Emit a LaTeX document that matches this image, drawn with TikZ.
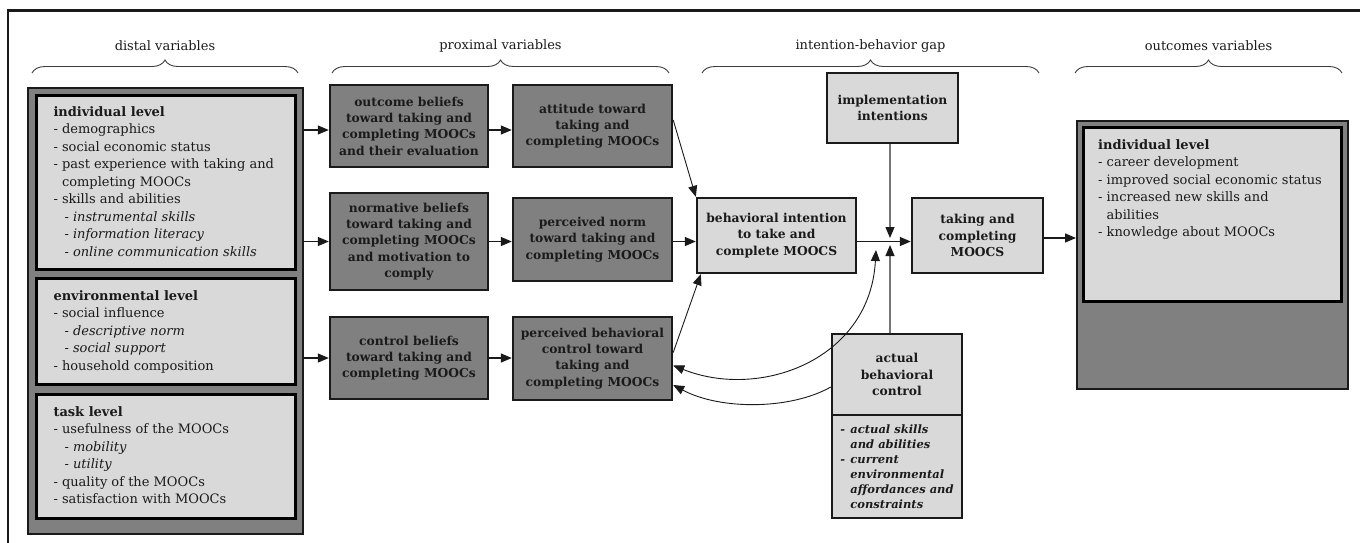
\documentclass[tikz,border=0pt]{standalone}
\usepackage{fontspec}
\setmainfont{DejaVu Serif}
\usetikzlibrary{arrows.meta,decorations.pathreplacing}
\definecolor{dk}{HTML}{808080}
\definecolor{lt}{HTML}{D9D9D9}
\definecolor{ink}{HTML}{1A1A1A}
\newcommand{\regfont}{\fontsize{13}{17.5}\selectfont}
\newcommand{\ind}{\hspace*{8.5pt}}
\newcommand{\subi}{\hspace*{11pt}}
\begin{document}
\begin{tikzpicture}[x=1pt,y=-1pt,
 darkbox/.style={draw=ink, line width=2.4pt, fill=dk, align=center, inner sep=2pt, text=ink, font=\bfseries\fontsize{12.3}{16.3}\selectfont},
 lightbox/.style={draw=ink, line width=2.4pt, fill=lt, align=center, inner sep=2pt, text=ink, font=\bfseries\fontsize{12.3}{16.3}\selectfont},
 levelbox/.style={draw=black, line width=3pt, fill=lt, anchor=north west, inner xsep=17pt, inner ysep=0pt, text=ink, font=\regfont},
 groupbox/.style={draw=ink, line width=2pt, fill=dk, anchor=north west, inner sep=0pt},
 arr/.style={-{Triangle[length=11pt,width=9pt]}, line width=1.3pt, draw=ink},
 thinarr/.style={-{Triangle[length=11pt,width=9pt]}, line width=0.9pt, draw=ink},
 greyarr/.style={-{Triangle[length=11pt,width=9pt,color=ink]}, line width=1.1pt, draw=ink!60},
 bothArr/.style={{Triangle[length=11pt,width=9pt]}-{Triangle[length=11pt,width=9pt]}, line width=0.9pt, draw=ink},
 bracestyle/.style={decorate, decoration={brace, amplitude=13pt}, line width=0.9pt, draw=ink!85},
 header/.style={font=\regfont, text=ink}]
\useasboundingbox (0,0) rectangle (1360,542);
% frame
\draw[line width=3pt, ink] (8,10) -- (1362,10);
\draw[line width=1.3pt, ink] (8,8.5) -- (8,545);
% headers and braces
\node[header] (h1) at (165,46) {distal variables};
\node[header] (h2) at (500.5,46) {proximal variables};
\node[header] (h3) at (870.5,46) {intention-behavior gap};
\node[header] (h4) at (1208.5,46) {outcomes variables};
\draw[bracestyle] (32,73) -- (298,73);
\draw[bracestyle] (332,73) -- (669,73);
\draw[bracestyle] (702,73) -- (1039,73);
\draw[bracestyle] (1075,73) -- (1342,73);
% distal
\node[groupbox, minimum width=275pt, minimum height=446pt] (dist) at (27,87) {};
\node[levelbox, minimum width=259pt, minimum height=174pt] (indl) at (35,94) {\makebox[225pt][l]{\begin{tabular}{@{}l@{}}
\textbf{individual level}\\
- demographics\\
- social economic status\\
- past experience with taking and\\
\ind completing MOOCs\\
- skills and abilities\\
\subi\textit{- instrumental skills}\\
\subi\textit{- information literacy}\\
\subi\textit{- online communication skills}
\end{tabular}}};
\node[levelbox, minimum width=259pt, minimum height=106pt] (envl) at (35,277) {\makebox[225pt][l]{\begin{tabular}{@{}l@{}}
\textbf{environmental level}\\
- social influence\\
\subi\textit{- descriptive norm}\\
\subi\textit{- social support}\\
- household composition
\end{tabular}}};
\node[levelbox, minimum width=259pt, minimum height=124pt] (taskl) at (35,393) {\makebox[225pt][l]{\begin{tabular}{@{}l@{}}
\textbf{task level}\\
- usefulness of the MOOCs\\
\subi\textit{- mobility}\\
\subi\textit{- utility}\\
- quality of the MOOCs\\
- satisfaction with MOOCs
\end{tabular}}};
% proximal
\node[darkbox, minimum width=158pt, minimum height=82pt] (ob) at (409,126) {outcome beliefs\\toward taking and\\completing MOOCs\\and their evaluation};
\node[darkbox, minimum width=159pt, minimum height=82pt] (att) at (592.5,126) {attitude toward\\taking and\\completing MOOCs};
\node[darkbox, minimum width=158pt, minimum height=97pt] (nb) at (409,241.5) {normative beliefs\\toward taking and\\completing MOOCs\\and motivation to\\comply};
\node[darkbox, minimum width=159pt, minimum height=83pt] (pn) at (592.5,239.5) {perceived norm\\toward taking and\\completing MOOCs};
\node[darkbox, minimum width=158pt, minimum height=82pt] (cb) at (409,358) {control beliefs\\toward taking and\\completing MOOCs};
\node[darkbox, minimum width=159pt, minimum height=83pt] (pbc) at (592.5,358.5) {perceived behavioral\\control toward\\taking and\\completing MOOCs};
% intention-behavior gap
\node[lightbox, minimum width=159pt, minimum height=75pt] (bi) at (776.5,235.5) {behavioral intention\\to take and\\complete MOOCS};
\node[lightbox, minimum width=131pt, minimum height=70pt] (ii) at (892.5,108) {implementation\\intentions};
\node[lightbox, minimum width=131pt, minimum height=75pt] (tc) at (977.5,235.5) {taking and\\completing\\MOOCS};
\node[lightbox, minimum width=130pt, minimum height=81pt] (abct) at (897,374.5) {actual\\behavioral\\control};
\node[lightbox, anchor=north, minimum width=130pt, minimum height=103pt, align=left, font=\bfseries\itshape\fontsize{11.5}{15}\selectfont] (abcb) at ([yshift=2.4pt]abct.south) {\makebox[10pt][l]{-}actual skills\\
\hspace*{10pt}and abilities\\
\makebox[10pt][l]{-}current\\
\hspace*{10pt}environmental\\
\hspace*{10pt}affordances and\\
\hspace*{10pt}constraints};
% outcomes
\node[groupbox, minimum width=271pt, minimum height=268pt] (oout) at (1076,120) {};
\node[levelbox, minimum width=258pt, minimum height=174pt] (oin) at (1082,126) {};
\node[anchor=north west, inner sep=0pt, font=\regfont, text=ink] (otext) at (1098,137) {\begin{tabular}{@{}l@{}}
\textbf{individual level}\\
- career development\\
- improved social economic status\\
- increased new skills and\\
\ind abilities\\
- knowledge about MOOCs
\end{tabular}};
% connectors
\coordinate (r1) at ([yshift=-4pt]ob.west);
\coordinate (r1e) at ([yshift=-4pt]ob.east);
\draw[arr] (r1 -| dist.east) -- (r1);
\draw[arr] (r1e) -- (r1e -| att.west);
\draw[arr] (nb.west -| dist.east) -- (nb.west);
\draw[arr] (nb.east) -- (nb.east -| pn.west);
\draw[arr] (nb.east -| pn.east) -- (nb.east -| bi.west);
\draw[arr] (cb.west -| dist.east) -- (cb.west);
\draw[arr] (cb.east) -- (cb.east -| pbc.west);
\draw[thinarr] ([yshift=6pt]att.east) -- (bi.north west);
\draw[thinarr] ([yshift=6pt]pbc.east) -- ([xshift=5pt]bi.south west);
\coordinate (Jt) at (890,238);
\coordinate (Jb) at (890,245);
\coordinate (Jc) at (876,250);
\draw[arr] (nb.east -| bi.east) -- (nb.east -| tc.west);
\draw[greyarr] (ii.south -| Jt) -- (Jt);
\draw[greyarr] (abct.north -| Jb) -- (Jb);
\draw[bothArr] ([yshift=-7pt]pbc.east) .. controls (760,400) and (870,360) .. (Jc);
\draw[thinarr] ([yshift=-12.5pt]abct.west) .. controls (790,410) and (720,410) .. ([yshift=-26.5pt]pbc.east);
\coordinate (r4) at ([yshift=-2.5pt]tc.east);
\draw[arr] (r4) -- (r4 -| oout.west);
\end{tikzpicture}
\end{document}
